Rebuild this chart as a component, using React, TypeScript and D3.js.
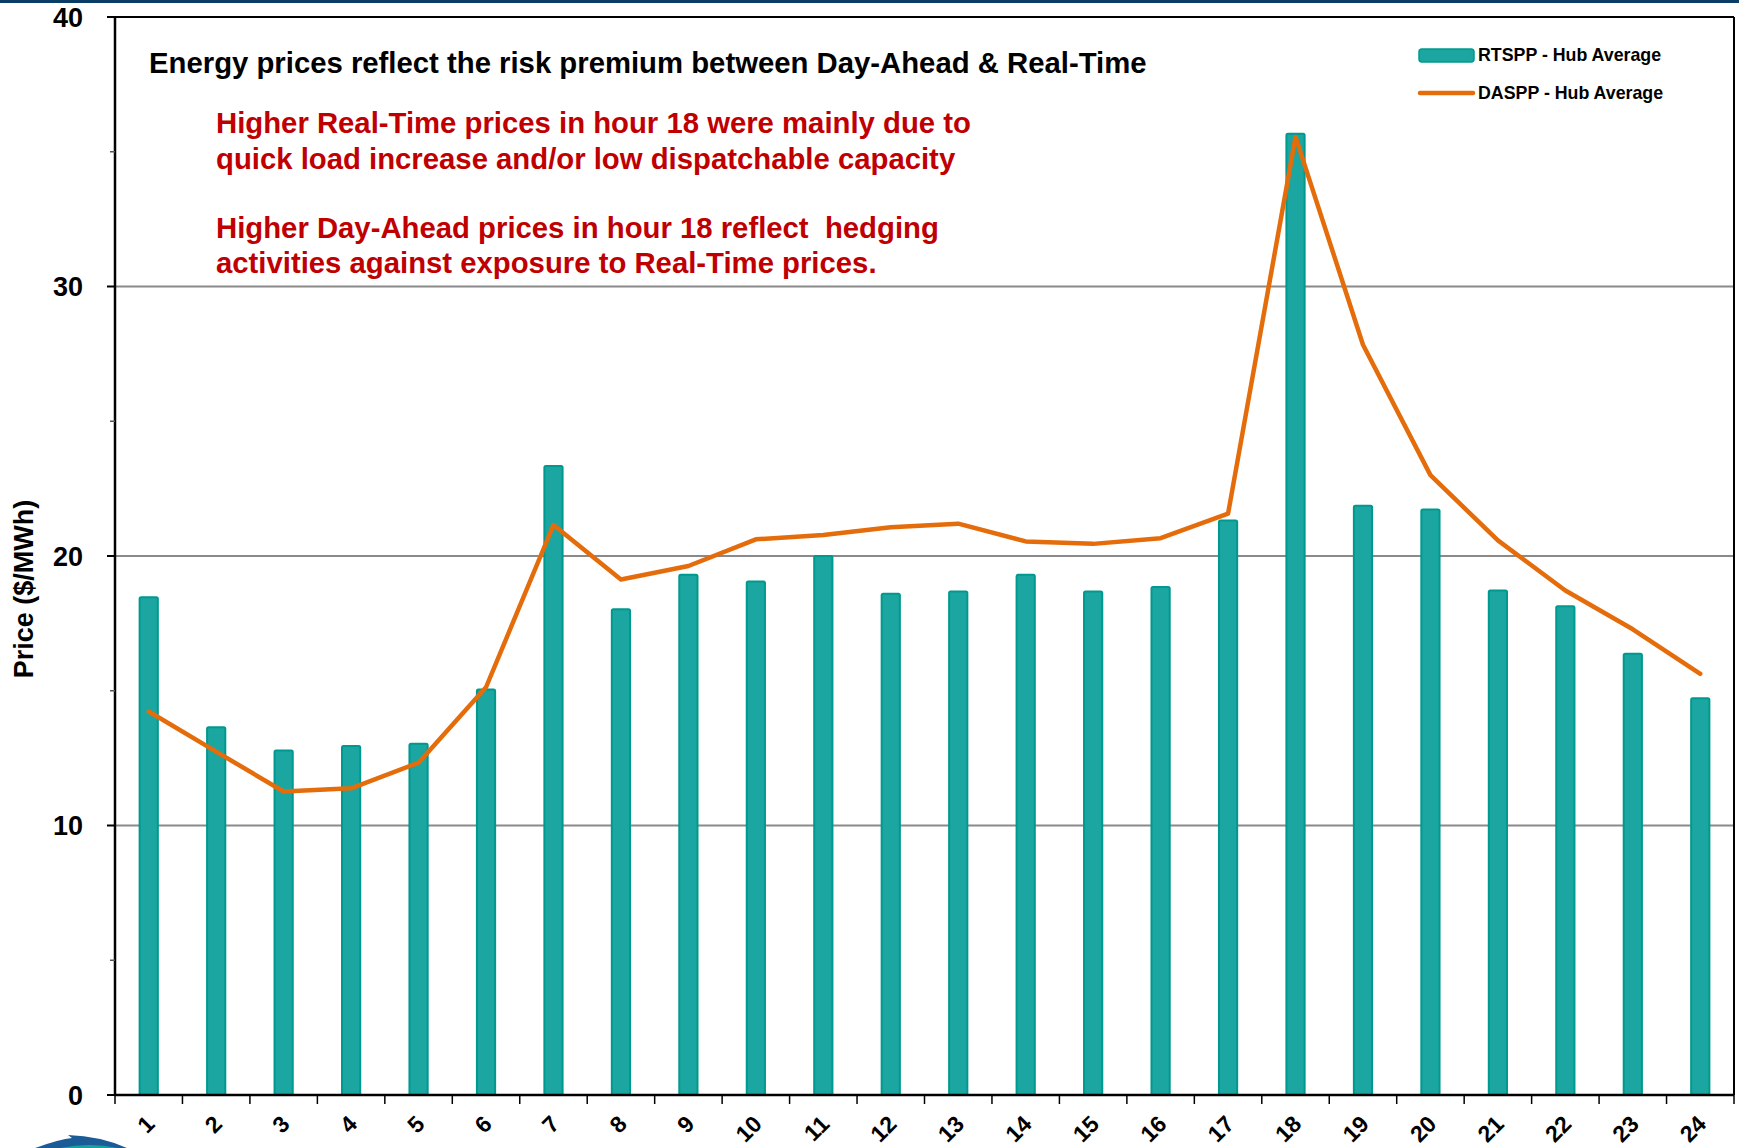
import React from "react";
import * as d3 from "d3";

// hours on the x axis
const hours = ["1","2","3","4","5","6","7","8","9","10","11","12","13","14","15","16","17","18","19","20","21","22","23","24"];
// real-time settlement point price, hub average ($/MWh)
const rtspp = [18.47,13.65,12.78,12.95,13.03,15.05,23.34,18.02,19.3,19.05,20.0,18.6,18.68,19.3,18.68,18.85,21.32,35.67,21.86,21.73,18.72,18.14,16.37,14.72];
// day-ahead settlement point price, hub average ($/MWh)
const daspp = [14.23,12.74,11.26,11.38,12.33,15.13,21.15,19.13,19.63,20.62,20.78,21.07,21.2,20.54,20.45,20.66,21.57,35.55,27.84,23.0,20.58,18.72,17.28,15.63];
const yTicks = [0,10,20,30,40];
const gridTicks = [10,20,30];
const minorTicks = [5,15,25,35];

const title = "Energy prices reflect the risk premium between Day-Ahead & Real-Time";
const notes = [
  "Higher Real-Time prices in hour 18 were mainly due to",
  "quick load increase and/or low dispatchable capacity",
  "Higher Day-Ahead prices in hour 18 reflect  hedging",
  "activities against exposure to Real-Time prices.",
];

const W = 1739, H = 1148;
const left = 115, right = 1734, top = 17, bottom = 1095;
const FONT = "'Liberation Sans', Arial, sans-serif";
const TEAL = "#1ca6a1";
const TEAL_DARK = "#00998f";
const ORANGE = "#e46c0a";
const RED = "#c00000";

export default function App() {
  const x = d3.scaleBand().domain(hours).range([left, right]).padding(0);
  const y = d3.scaleLinear().domain([0, 40]).range([bottom, top]);
  const bw = x.bandwidth() * 0.27;
  const cx = (h: string) => (x(h) as number) + x.bandwidth() / 2;

  const line = d3
    .line<number>()
    .x((_, i) => cx(hours[i]))
    .y((d) => y(d));

  const bounds = hours.map((h) => x(h) as number).concat([right]);

  return (
    <div style={{ position: "absolute", left: 0, top: 0 }}>
      <svg width={W} height={H} style={{ display: "block", background: "#fff" }}>
        {/* top banner strip */}
        <rect x={0} y={0} width={W} height={3} fill="#0b3d66" />

        {/* gridlines */}
        {gridTicks.map((t) => (
          <line key={t} x1={left} x2={right} y1={y(t)} y2={y(t)} stroke="#8a8a8a" strokeWidth={2} />
        ))}

        {/* bars */}
        {hours.map((h, i) => (
          <rect
            key={h}
            x={cx(h) - bw / 2}
            y={y(rtspp[i])}
            width={bw}
            height={bottom - y(rtspp[i])}
            rx={1.5}
            fill={TEAL}
            stroke={TEAL_DARK}
            strokeWidth={2}
          />
        ))}

        {/* day-ahead line */}
        <path d={line(daspp) || ""} fill="none" stroke={ORANGE} strokeWidth={4.5} strokeLinejoin="round" strokeLinecap="round" />

        {/* frame */}
        <line x1={left} x2={right} y1={top} y2={top} stroke="#000" strokeWidth={2} />
        <line x1={right} x2={right} y1={top} y2={bottom} stroke="#000" strokeWidth={2} />
        <line x1={left} x2={left} y1={top} y2={bottom + 1} stroke="#000" strokeWidth={2.5} />
        <line x1={left} x2={right} y1={bottom} y2={bottom} stroke="#000" strokeWidth={2.5} />

        {/* y ticks */}
        {yTicks.map((t) => (
          <g key={t}>
            <line x1={left - 8} x2={left} y1={y(t)} y2={y(t)} stroke="#000" strokeWidth={2} />
            <text
              x={83}
              y={y(t)}
              dy="0.36em"
              textAnchor="end"
              fontFamily={FONT}
              fontWeight="bold"
              fontSize={27}
            >
              {t}
            </text>
          </g>
        ))}
        {minorTicks.map((t) => (
          <line key={t} x1={left - 5} x2={left} y1={y(t)} y2={y(t)} stroke="#555" strokeWidth={1.5} />
        ))}

        {/* x ticks */}
        {bounds.map((b, i) => (
          <line key={i} x1={b} x2={b} y1={bottom} y2={bottom + 9} stroke="#000" strokeWidth={1.5} />
        ))}
        {hours.map((h) => (
          <text
            key={h}
            transform={`translate(${cx(h) - 4},${bottom + 19}) rotate(-45)`}
            textAnchor="end"
            dy="0.7em"
            fontFamily={FONT}
            fontWeight="bold"
            fontSize={23}
          >
            {h}
          </text>
        ))}

        {/* y axis title */}
        <text
          transform={`translate(33,589) rotate(-90)`}
          textAnchor="middle"
          fontFamily={FONT}
          fontWeight="bold"
          fontSize={27}
        >
          Price ($/MWh)
        </text>

        {/* chart heading and notes */}
        <text x={149} y={73} fontFamily={FONT} fontWeight="bold" fontSize={29.3} fill="#000">
          {title}
        </text>
        {notes.map((n, i) => (
          <text
            key={i}
            x={216}
            y={[133, 169, 238, 273][i]}
            fontFamily={FONT}
            fontWeight="bold"
            fontSize={29.3}
            fill={RED}
            style={{ whiteSpace: "pre" }}
          >
            {n}
          </text>
        ))}

        {/* legend */}
        <rect x={1419} y={49} width={55} height={13} rx={3} fill={TEAL} stroke={TEAL_DARK} strokeWidth={1.5} />
        <text x={1478} y={61} fontFamily={FONT} fontWeight="bold" fontSize={17.8}>
          RTSPP - Hub Average
        </text>
        <line x1={1420} x2={1473} y1={93} y2={93} stroke={ORANGE} strokeWidth={4.5} strokeLinecap="round" />
        <text x={1478} y={99} fontFamily={FONT} fontWeight="bold" fontSize={17.8}>
          DASPP - Hub Average
        </text>

        {/* partial logo swoosh in the corner */}
        <path d="M35,1148 Q60,1139 72,1138 L68,1135 Q100,1136 127,1148 Z" fill="#1b5c96" />
        <path d="M60,1148 Q90,1142 118,1148 Z" fill="#17a2a0" />
      </svg>
    </div>
  );
}
